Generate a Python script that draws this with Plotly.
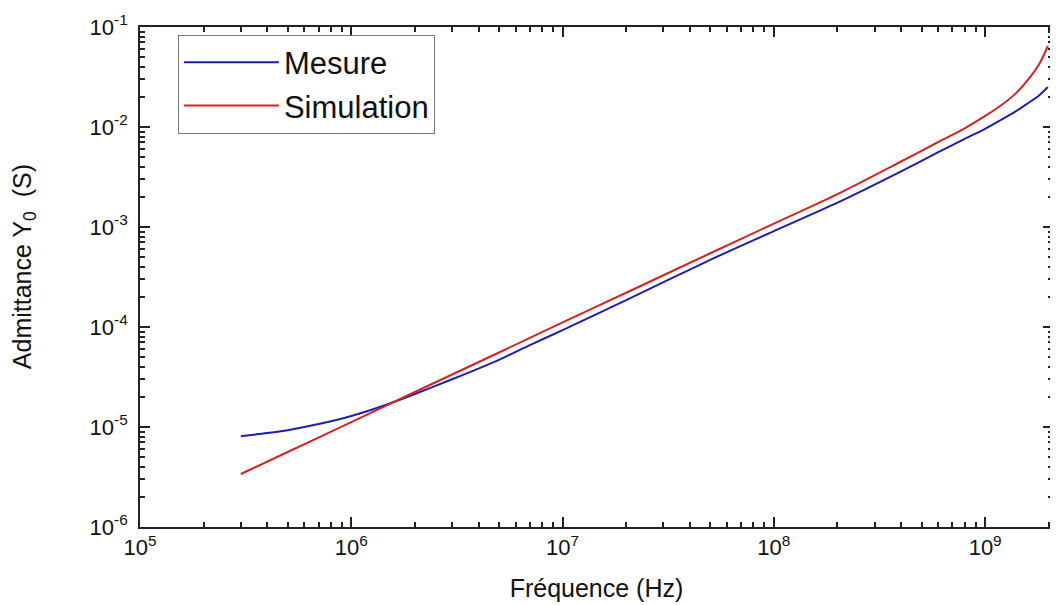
import plotly.graph_objects as go

# Data
freq_mesure = [3e5, 4e5, 5e5, 7e5, 1e6, 1.5e6, 2e6, 3e6, 5e6, 7e6, 1e7, 2e7, 5e7,
               1e8, 2e8, 4e8, 6e8, 8e8, 1e9, 1.2e9, 1.4e9, 1.6e9, 1.8e9, 1.98e9]
admit_mesure = [8.1e-6, 8.7e-6, 9.3e-6, 1.07e-5, 1.29e-5, 1.70e-5, 2.14e-5, 3.0e-5,
                4.7e-5, 6.6e-5, 9.3e-5, 1.86e-4, 4.7e-4, 9.1e-4, 1.75e-3, 3.6e-3,
                5.6e-3, 7.6e-3, 9.6e-3, 1.19e-2, 1.44e-2, 1.74e-2, 2.07e-2, 2.51e-2]

freq_sim = [3e5, 5e5, 1e6, 2e6, 5e6, 1e7, 2e7, 5e7, 1e8, 2e8, 4e8, 6e8, 8e8, 1e9,
            1.2e9, 1.4e9, 1.6e9, 1.8e9, 1.98e9]
admit_sim = [3.39e-6, 5.62e-6, 1.12e-5, 2.24e-5, 5.56e-5, 1.11e-4, 2.20e-4, 5.46e-4,
             1.08e-3, 2.13e-3, 4.52e-3, 7.08e-3, 9.7e-3, 1.29e-2, 1.67e-2, 2.18e-2,
             2.99e-2, 4.24e-2, 6.46e-2]

x_exps = [5, 6, 7, 8, 9]
y_exps = [-6, -5, -4, -3, -2, -1]
x_ticktext = [f"10<sup>{e}</sup>" for e in x_exps]
y_ticktext = [f"10<sup>{e}</sup>&nbsp;" for e in y_exps]

FONT = "Liberation Sans, Arial, sans-serif"
AXC = "#222222"
TXT = "#111111"

fig = go.Figure()
fig.add_trace(go.Scatter(x=freq_mesure, y=admit_mesure, mode="lines", name="Mesure",
                         line=dict(color="rgb(30,30,175)", width=2, shape="spline", smoothing=0.8)))
fig.add_trace(go.Scatter(x=freq_sim, y=admit_sim, mode="lines", name="Simulation",
                         line=dict(color="rgb(212,35,35)", width=2, shape="spline", smoothing=0.8)))

x_minor = [m * 10.0 ** e for e in range(5, 10) for m in range(2, 10)]
y_minor = [m * 10.0 ** e for e in range(-6, -1) for m in range(2, 10)]

fig.update_layout(
    width=1050, height=597,
    margin=dict(l=132, r=3, t=11, b=78),
    paper_bgcolor="white", plot_bgcolor="white",
    font=dict(family=FONT, color=TXT),
    showlegend=True,
    legend=dict(x=0.0415, y=0.985, xanchor="left", yanchor="top",
                bgcolor="white", bordercolor="#777777", borderwidth=1,
                font=dict(size=31, family=FONT, color=TXT),
                tracegroupgap=0, itemwidth=95),
    xaxis=dict(type="log", range=[5, 9.321],
               tickmode="array",
               tickvals=[10.0 ** e for e in x_exps], ticktext=x_ticktext,
               ticks="inside", ticklen=10, tickwidth=1.5, tickcolor=AXC,
               showline=True, linecolor=AXC, linewidth=1.5, mirror="ticks",
               showgrid=False, zeroline=False,
               tickfont=dict(size=22, family=FONT, color=TXT),
               ticklabeloverflow="allow",
               minor=dict(tickmode="array", tickvals=x_minor, ticks="inside", ticklen=5,
                          tickwidth=1.5, tickcolor=AXC, showgrid=False),
               title=dict(text="Fréquence (Hz)", font=dict(size=25, family=FONT, color=TXT),
                          standoff=20)),
    yaxis=dict(type="log", range=[-6, -1],
               tickmode="array",
               tickvals=[10.0 ** e for e in y_exps], ticktext=y_ticktext,
               ticks="inside", ticklen=10, tickwidth=1.5, tickcolor=AXC,
               showline=True, linecolor=AXC, linewidth=1.5, mirror="ticks",
               showgrid=False, zeroline=False,
               tickfont=dict(size=22, family=FONT, color=TXT),
               ticklabeloverflow="allow",
               minor=dict(tickmode="array", tickvals=y_minor, ticks="inside", ticklen=5,
                          tickwidth=1.5, tickcolor=AXC, showgrid=False),
               title=dict(text="&nbsp;&nbsp;&nbsp;Admittance Y<sub>0</sub>&nbsp; (S)",
                          font=dict(size=25, family=FONT, color=TXT),
                          standoff=52)),
)

fig.write_html("out.html")
